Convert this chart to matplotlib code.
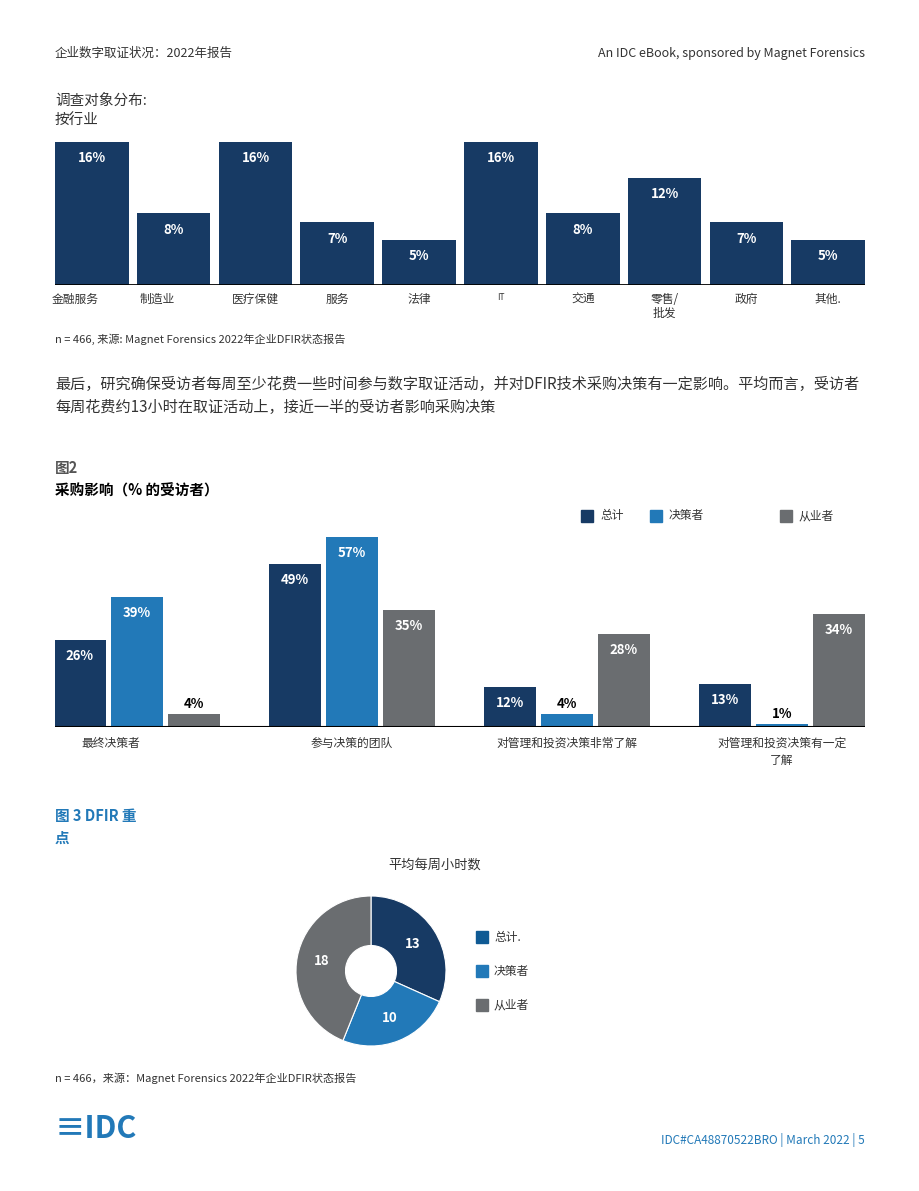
import matplotlib
matplotlib.use("Agg")
import matplotlib.pyplot as plt
import numpy as np
from matplotlib.patches import Rectangle

plt.rcParams['font.family'] = ['Noto Sans CJK SC', 'DejaVu Sans']

industries = ["金融服务", "制造业", "医疗保健", "服务", "法律", "IT", "交通", "零售/\n批发", "政府", "其他."]
industry_pct = [16, 8, 16, 7, 5, 16, 8, 12, 7, 5]

groups = ["最终决策者", "参与决策的团队", "对管理和投资决策非常了解", "对管理和投资决策有一定\n了解"]
series_names = ["总计", "决策者", "从业者"]
total = [26, 49, 12, 13]
decision = [39, 57, 4, 1]
practitioner = [4, 35, 28, 34]

donut_labels = ["总计.", "决策者", "从业者"]
donut_hours = [13, 10, 18]

DARK = "#173a64"; BLUE = "#2279b8"; GRAY = "#6a6d70"; TXT = "#333333"
W, H = 920, 1191
fig = plt.figure(figsize=(W/100, H/100), dpi=100)

def ax_px(x0, y0, x1, y1):
    return fig.add_axes([x0/W, 1-y1/H, (x1-x0)/W, (y1-y0)/H])

def t(x, y, s, **kw):
    kw.setdefault('color', TXT)
    kw.setdefault('va', 'center')
    fig.text(x/W, 1-y/H, s, **kw)

# header
t(55, 53, "企业数字取证状况：2022年报告", fontsize=9)
t(865, 53, "An IDC eBook, sponsored by Magnet Forensics", fontsize=9, ha='right')
t(55, 101, "调查对象分布:", fontsize=10.5)
t(55, 120, "按行业", fontsize=10.5)

# chart 1
ax1 = ax_px(55, 142, 865, 285)
x = np.arange(len(industries))
ax1.bar(x, industry_pct, width=0.9, color=DARK)
ax1.set_xlim(-0.45, len(industries)-0.55)
ax1.set_ylim(0, 16)
ax1.axis('off')
ax1.axhline(0, color='black', lw=2)
for i, v in enumerate(industry_pct):
    ax1.text(i, v-1.8, f"{v}%", ha='center', va='center', color='white', fontsize=9.5, fontweight='bold')
    lab = industries[i]
    ax1.text(i - (0.2 if i in (0,1) else 0), -0.9, lab, ha='center', va='top', fontsize=6 if lab == "IT" else 8.5, color=TXT, linespacing=1.1)
t(55, 339, "n = 466, 来源: Magnet Forensics 2022年企业DFIR状态报告", fontsize=8)
t(55, 384, "最后，研究确保受访者每周至少花费一些时间参与数字取证活动，并对DFIR技术采购决策有一定影响。平均而言，受访者", fontsize=10.9)
t(55, 407, "每周花费约13小时在取证活动上，接近一半的受访者影响采购决策", fontsize=10.9)

# chart 2
t(55, 468, "图2", fontsize=10.5, fontweight='bold', color='#555555')
t(55, 491, "采购影响（% 的受访者）", fontsize=10.5, fontweight='bold', color='black')
ax2 = ax_px(55, 537, 865, 727)
g = np.arange(len(groups))
bw, off = 0.242, 0.265
for k, (vals, col) in enumerate(zip([total, decision, practitioner], [DARK, BLUE, GRAY])):
    xs = g + (k-1)*off
    ax2.bar(xs, vals, width=bw, color=col)
    for xi, v in zip(xs, vals):
        if v >= 10:
            ax2.text(xi, v-4.8, f"{v}%", ha='center', va='center', color='white', fontsize=9.5, fontweight='bold')
        else:
            ax2.text(xi, v+3, f"{v}%", ha='center', va='center', color='black', fontsize=9.5, fontweight='bold')
ax2.set_xlim(-0.381, 3.386)
ax2.set_ylim(0, 57)
ax2.axis('off')
ax2.axhline(0, color='black', lw=1.5)
for i, lab in enumerate(groups):
    ax2.text(i - (0.12 if i == 0 else 0), -3.0, lab, ha='center', va='top', fontsize=8.5, color=TXT, linespacing=1.4)
for (lx, name, col) in [(581, series_names[0], DARK), (650, series_names[1], BLUE), (780, series_names[2], GRAY)]:
    fig.patches.append(Rectangle((lx/W, 1-522/H), 12/W, 12/H, transform=fig.transFigure, color=col))
    t(lx+19, 516, name, fontsize=8.5)

# chart 3
t(55, 816, "图 3 DFIR 重", fontsize=10.5, fontweight='bold', color='#2279b8')
t(55, 838, "点", fontsize=10.5, fontweight='bold', color='#2279b8')
t(435, 865, "平均每周小时数", fontsize=9.5, ha='center')
ax3 = ax_px(296, 896, 446, 1046)
wedges, _ = ax3.pie(donut_hours, colors=[DARK, BLUE, GRAY], startangle=90, counterclock=False,
                    wedgeprops=dict(width=0.66, edgecolor='white', linewidth=0.8))
ax3.set_xlim(-1, 1); ax3.set_ylim(-1, 1)
ax3.set_aspect('equal')
ang = 90
tot = sum(donut_hours)
for v in donut_hours:
    mid = np.deg2rad(ang - v/tot*180)
    ax3.text(0.67*np.cos(mid), 0.67*np.sin(mid), str(v), ha='center', va='center', color='white', fontsize=9.5, fontweight='bold')
    ang -= v/tot*360
for (ly, name, col) in [(937, donut_labels[0], '#0f5a94'), (971, donut_labels[1], BLUE), (1005, donut_labels[2], GRAY)]:
    fig.patches.append(Rectangle((476/W, 1-(ly+6)/H), 12/W, 12/H, transform=fig.transFigure, color=col))
    t(494, ly, name, fontsize=8.5)
t(55, 1078, "n = 466，来源：Magnet Forensics 2022年企业DFIR状态报告", fontsize=8)

# footer
t(55, 1129, "≡IDC", fontsize=22, color='#2279b8', fontweight='bold')
t(865, 1140, "IDC#CA48870522BRO | March 2022 | 5", fontsize=8.5, ha='right', color='#2279b8')

fig.savefig("out.png", dpi=100)
